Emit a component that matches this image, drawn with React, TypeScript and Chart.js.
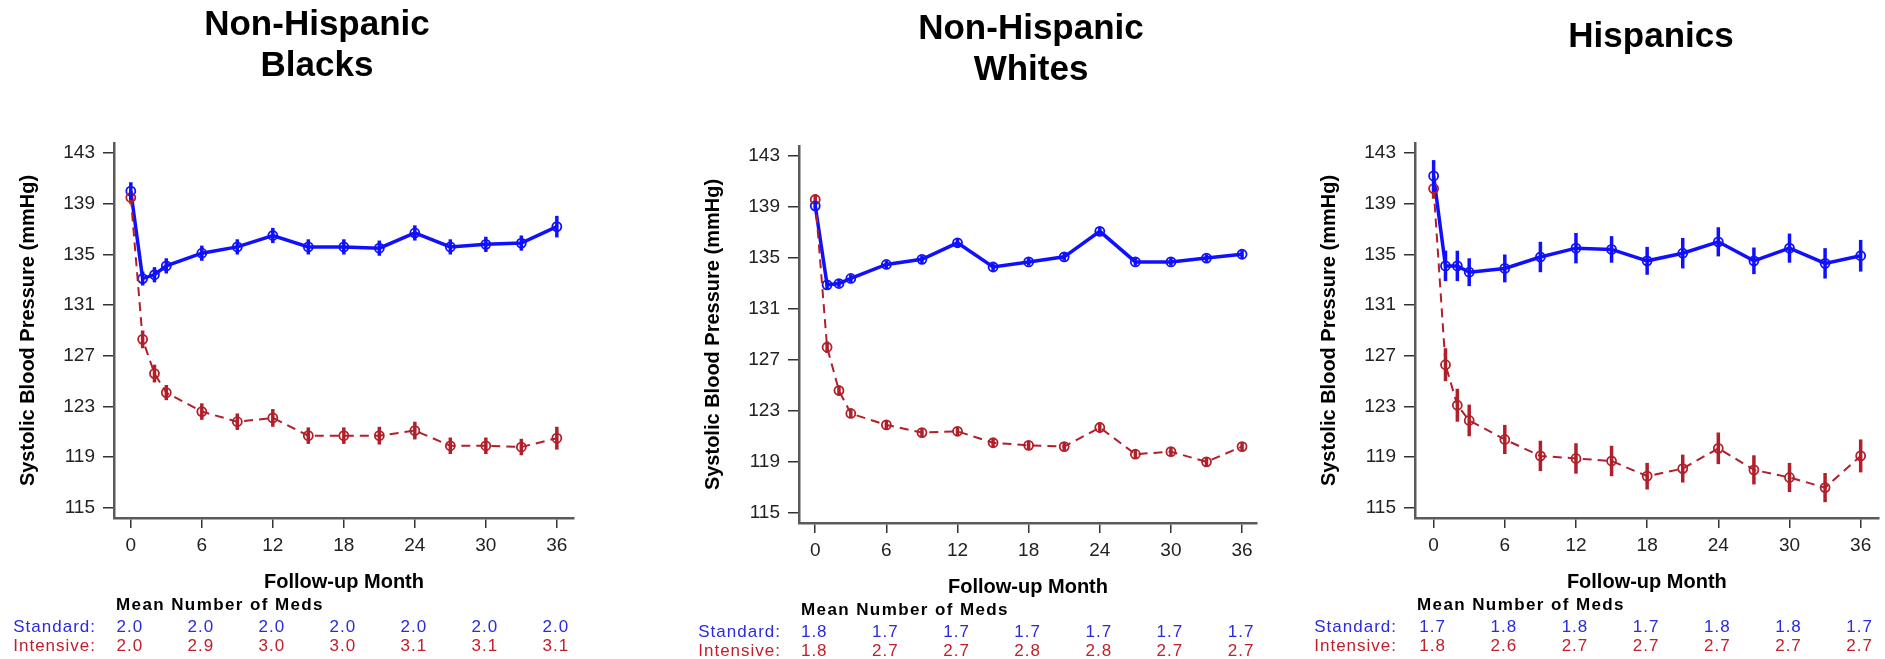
import React, { useEffect, useRef } from 'react';
import { Chart, registerables } from 'chart.js';

Chart.register(...registerables);

const FONT = '"Liberation Sans", Arial, Helvetica, sans-serif';

// ---- data ----
const months = [0, 1, 2, 3, 6, 9, 12, 15, 18, 21, 24, 27, 30, 33, 36];
const xTicks = [0, 6, 12, 18, 24, 30, 36];
const yTicks = [115, 119, 123, 127, 131, 135, 139, 143];
const medMonths = [0, 6, 12, 18, 24, 30, 36];

const blacksStandard = [140.0, 133.1, 133.4, 134.1, 135.1, 135.6, 136.5, 135.6, 135.6, 135.5, 136.7, 135.6, 135.8, 135.9, 137.2];
const blacksStandardErr = [0.7, 0.55, 0.6, 0.6, 0.6, 0.6, 0.6, 0.6, 0.6, 0.6, 0.6, 0.6, 0.6, 0.6, 0.85];
const blacksIntensive = [139.5, 128.3, 125.6, 124.1, 122.6, 121.8, 122.1, 120.7, 120.7, 120.7, 121.1, 119.9, 119.9, 119.8, 120.5];
const blacksIntensiveErr = [0.5, 0.7, 0.7, 0.6, 0.65, 0.65, 0.7, 0.65, 0.65, 0.7, 0.7, 0.65, 0.65, 0.65, 0.9];
const blacksMedsStandard = [2.0, 2.0, 2.0, 2.0, 2.0, 2.0, 2.0];
const blacksMedsIntensive = [2.0, 2.9, 3.0, 3.0, 3.1, 3.1, 3.1];

const whitesStandard = [139.1, 132.9, 133.0, 133.4, 134.5, 134.9, 136.2, 134.3, 134.7, 135.1, 137.1, 134.7, 134.7, 135.0, 135.3];
const whitesStandardErr = [0.4, 0.35, 0.3, 0.3, 0.3, 0.3, 0.35, 0.3, 0.3, 0.3, 0.35, 0.3, 0.3, 0.3, 0.3];
const whitesIntensive = [139.6, 128.0, 124.6, 122.8, 121.9, 121.3, 121.4, 120.5, 120.3, 120.2, 121.7, 119.6, 119.8, 119.0, 120.2];
const whitesIntensiveErr = [0.4, 0.45, 0.4, 0.35, 0.35, 0.35, 0.35, 0.35, 0.35, 0.35, 0.4, 0.35, 0.35, 0.35, 0.35];
const whitesMedsStandard = [1.8, 1.7, 1.7, 1.7, 1.7, 1.7, 1.7];
const whitesMedsIntensive = [1.8, 2.7, 2.7, 2.8, 2.8, 2.7, 2.7];

const hispStandard = [141.2, 134.1, 134.1, 133.6, 133.9, 134.8, 135.5, 135.4, 134.5, 135.1, 136.0, 134.5, 135.5, 134.3, 134.9];
const hispStandardErr = [1.25, 1.2, 1.2, 1.1, 1.1, 1.2, 1.2, 1.05, 1.1, 1.2, 1.15, 1.05, 1.15, 1.2, 1.25];
const hispIntensive = [140.2, 126.3, 123.1, 121.9, 120.4, 119.1, 118.9, 118.7, 117.5, 118.1, 119.7, 118.0, 117.4, 116.6, 119.1];
const hispIntensiveErr = [0.8, 1.3, 1.3, 1.25, 1.15, 1.2, 1.2, 1.2, 1.05, 1.1, 1.25, 1.15, 1.15, 1.15, 1.3];
const hispMedsStandard = [1.7, 1.8, 1.8, 1.7, 1.8, 1.8, 1.7];
const hispMedsIntensive = [1.8, 2.6, 2.7, 2.7, 2.7, 2.7, 2.7];

const yAxisTitle = 'Systolic Blood Pressure (mmHg)';
const xAxisTitle = 'Follow-up Month';
const medsTitle = 'Mean Number of Meds';
const standardLabel = 'Standard:';
const intensiveLabel = 'Intensive:';

// ---- styles / layout ----
const BLUE = '#1010ff';
const RED = '#b0202a';
const BLUE_TEXT = '#2a2ae0';
const RED_TEXT = '#c0202c';
const H = 659;

type Panel = {
  titleLines: string[];
  titleX: number;
  titleBaselines: number[];
  std: number[];
  stdErr: number[];
  int: number[];
  intErr: number[];
  medsStd: number[];
  medsInt: number[];
  canvasLeft: number;
  canvasWidth: number;
  area: { left: number; right: number; top: number; bottom: number };
  xMin: number;
  xMax: number;
};

const panels: Panel[] = [
  {
    titleLines: ['Non-Hispanic', 'Blacks'], titleX: 317, titleBaselines: [35, 76],
    std: blacksStandard, stdErr: blacksStandardErr, int: blacksIntensive, intErr: blacksIntensiveErr,
    medsStd: blacksMedsStandard, medsInt: blacksMedsIntensive,
    canvasLeft: 0, canvasWidth: 620,
    area: { left: 114, right: 574, top: 143, bottom: 518 }, xMin: -1.42, xMax: 37.45,
  },
  {
    titleLines: ['Non-Hispanic', 'Whites'], titleX: 1031, titleBaselines: [39, 80],
    std: whitesStandard, stdErr: whitesStandardErr, int: whitesIntensive, intErr: whitesIntensiveErr,
    medsStd: whitesMedsStandard, medsInt: whitesMedsIntensive,
    canvasLeft: 620, canvasWidth: 650,
    area: { left: 179, right: 637, top: 146, bottom: 523 }, xMin: -1.37, xMax: 37.26,
  },
  {
    titleLines: ['Hispanics'], titleX: 1651, titleBaselines: [47],
    std: hispStandard, stdErr: hispStandardErr, int: hispIntensive, intErr: hispIntensiveErr,
    medsStd: hispMedsStandard, medsInt: hispMedsIntensive,
    canvasLeft: 1270, canvasWidth: 615,
    area: { left: 145, right: 615, top: 143, bottom: 518 }, xMin: -1.57, xMax: 37.52,
  },
];

const overlayPlugin = {
  id: 'overlay',
  afterDatasetsDraw(chart: any) {
    const ctx = chart.ctx;
    const yScale = chart.scales.y;
    chart.data.datasets.forEach((ds: any, i: number) => {
      const meta = chart.getDatasetMeta(i);
      ctx.save();
      ctx.strokeStyle = ds.borderColor;
      ctx.lineWidth = 3.5;
      ctx.setLineDash([]);
      meta.data.forEach((pt: any, j: number) => {
        const v = ds.data[j].y;
        const e = ds.errors[j];
        ctx.beginPath();
        ctx.moveTo(pt.x, yScale.getPixelForValue(v + e));
        ctx.lineTo(pt.x, yScale.getPixelForValue(v - e));
        ctx.stroke();
      });
      ctx.restore();
    });
  },
  afterDraw(chart: any) {
    const p: Panel = chart.options.plugins.overlay.panel;
    const ctx = chart.ctx;
    const a = chart.chartArea;
    const xScale = chart.scales.x;
    ctx.save();
    // panel title
    ctx.fillStyle = '#000';
    ctx.font = `bold 35px ${FONT}`;
    ctx.textAlign = 'center';
    ctx.textBaseline = 'alphabetic';
    p.titleLines.forEach((line, k) => {
      ctx.fillText(line, p.titleX - p.canvasLeft, p.titleBaselines[k]);
    });
    // y-axis title
    ctx.save();
    ctx.translate(a.left - 86, (a.top + a.bottom) / 2);
    ctx.rotate(-Math.PI / 2);
    ctx.font = `bold 20px ${FONT}`;
    ctx.textBaseline = 'middle';
    ctx.fillText(yAxisTitle, 0, 0);
    ctx.restore();
    // x-axis title
    ctx.font = `bold 20px ${FONT}`;
    ctx.textAlign = 'center';
    ctx.fillText(xAxisTitle, (a.left + a.right) / 2, a.bottom + 69.5);
    // meds table
    (ctx as any).letterSpacing = '1.4px';
    ctx.font = `bold 17px ${FONT}`;
    ctx.textAlign = 'left';
    ctx.fillText(medsTitle, a.left + 2, a.bottom + 92);
    (ctx as any).letterSpacing = '1px';
    ctx.font = `17px ${FONT}`;
    ctx.textAlign = 'right';
    ctx.fillStyle = BLUE_TEXT;
    ctx.fillText(standardLabel, a.left - 18, a.bottom + 113.5);
    ctx.fillStyle = RED_TEXT;
    ctx.fillText(intensiveLabel, a.left - 18, a.bottom + 133);
    ctx.textAlign = 'center';
    medMonths.forEach((m, k) => {
      const x = xScale.getPixelForValue(m) - 1;
      ctx.fillStyle = BLUE_TEXT;
      ctx.fillText(p.medsStd[k].toFixed(1), x, a.bottom + 113.5);
      ctx.fillStyle = RED_TEXT;
      ctx.fillText(p.medsInt[k].toFixed(1), x, a.bottom + 133);
    });
    (ctx as any).letterSpacing = '0px';
    ctx.restore();
  },
};

function makeConfig(p: Panel): any {
  return {
    type: 'line',
    data: {
      datasets: [
        {
          label: 'Intensive',
          data: months.map((m, i) => ({ x: m, y: p.int[i] })),
          errors: p.intErr,
          borderColor: RED,
          borderWidth: 2,
          borderDash: [9, 6],
          pointRadius: 4.5,
          pointBorderWidth: 1.8,
          pointBorderColor: RED,
          pointBackgroundColor: 'rgba(255,255,255,0)',
          fill: false,
          tension: 0,
        },
        {
          label: 'Standard',
          data: months.map((m, i) => ({ x: m, y: p.std[i] })),
          errors: p.stdErr,
          borderColor: BLUE,
          borderWidth: 3.5,
          pointRadius: 4.5,
          pointBorderWidth: 1.8,
          pointBorderColor: BLUE,
          pointBackgroundColor: 'rgba(255,255,255,0)',
          fill: false,
          tension: 0,
        },
      ],
    },
    options: {
      responsive: false,
      animation: false,
      devicePixelRatio: 1,
      layout: { padding: { left: 0, top: p.area.top, right: p.canvasWidth - p.area.right, bottom: 0 } },
      plugins: {
        legend: { display: false },
        title: { display: false },
        tooltip: { enabled: false },
        overlay: { panel: p },
      },
      scales: {
        x: {
          type: 'linear',
          min: p.xMin,
          max: p.xMax,
          afterBuildTicks: (s: any) => { s.ticks = xTicks.map((v) => ({ value: v })); },
          afterFit: (s: any) => { s.height = H - p.area.bottom; },
          grid: { display: true, drawOnChartArea: false, drawTicks: true, tickLength: 10, color: '#333', lineWidth: 1.5 },
          border: { display: true, color: '#5a5a5a', width: 2.5 },
          ticks: { font: { family: FONT, size: 19 }, color: '#222', padding: 6, maxRotation: 0, autoSkip: false, callback: (v: any) => String(v) },
        },
        y: {
          type: 'linear',
          min: 114.2,
          max: 143.8,
          afterBuildTicks: (s: any) => { s.ticks = yTicks.map((v) => ({ value: v })); },
          afterFit: (s: any) => { s.width = p.area.left; },
          grid: { display: true, drawOnChartArea: false, drawTicks: true, tickLength: 11, color: '#333', lineWidth: 1.5 },
          border: { display: true, color: '#5a5a5a', width: 2.5 },
          ticks: { font: { family: FONT, size: 19 }, color: '#222', padding: 8, autoSkip: false, callback: (v: any) => String(v) },
        },
      },
    },
    plugins: [overlayPlugin],
  };
}

function PanelChart({ panel }: { panel: Panel }) {
  const ref = useRef<HTMLCanvasElement | null>(null);
  useEffect(() => {
    if (!ref.current) return;
    const chart = new Chart(ref.current, makeConfig(panel));
    return () => chart.destroy();
  }, [panel]);
  return (
    <canvas
      ref={ref}
      width={panel.canvasWidth}
      height={H}
      style={{ position: 'absolute', left: panel.canvasLeft, top: 0, width: panel.canvasWidth, height: H }}
    />
  );
}

export default function App() {
  return (
    <div style={{ position: 'fixed', left: 0, top: 0, width: 1885, height: H, background: '#fff', overflow: 'hidden' }}>
      {panels.map((p, i) => (
        <PanelChart key={i} panel={p} />
      ))}
    </div>
  );
}
